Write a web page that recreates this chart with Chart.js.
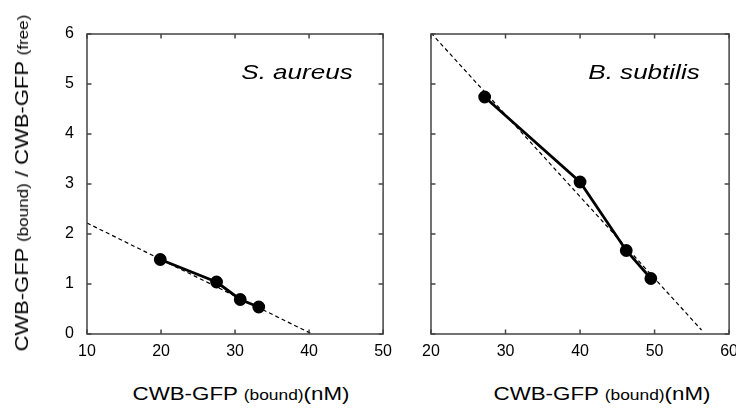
<!DOCTYPE html>
<html>
<head>
<meta charset="utf-8">
<script src="https://cdn.jsdelivr.net/npm/chart.js@4"></script>
<style>
  html, body { margin: 0; padding: 0; background: #fff; }
  body { width: 736px; height: 410px; position: relative; overflow: hidden;
         font-family: "Liberation Sans", Arial, sans-serif; color: #000; }
  .panel { position: absolute; top: 0; height: 380px; }
  .lbl { position: absolute; white-space: nowrap; line-height: 1; }
  .lbl small { font-size: 14px; }
  .ytitle { font-size: 18px; left: 21.5px; top: 183px;
            transform: translate(-50%, -50%) rotate(-90deg) scaleX(1.22); }
  .xtitle { font-size: 18px; top: 393.5px;
            transform: translate(-50%, -50%) scaleX(1.24); }
  .species { font-size: 21px; font-style: italic; top: 71px;
             transform: translate(-50%, -50%) scaleX(1.24); }
</style>
</head>
<body>
<div class="panel" id="leftBox" style="left:0; width:400px;"><canvas id="leftChart"></canvas></div>
<div class="panel" id="rightBox" style="left:400px; width:346px;"><canvas id="rightChart"></canvas></div>

<div class="lbl ytitle">CWB-GFP <small>(bound)</small> / CWB-GFP <small>(free)</small></div>
<div class="lbl xtitle" style="left:241px;">CWB-GFP <small>(bound)</small>(nM)</div>
<div class="lbl xtitle" style="left:602px;">CWB-GFP <small>(bound)</small>(nM)</div>
<div class="lbl species" style="left:297px;">S. aureus</div>
<div class="lbl species" style="left:644px;">B. subtilis</div>

<script>
// S. aureus
const saX = [19.9, 27.5, 30.7, 33.2];
const saY = [1.49, 1.04, 0.69, 0.54];
const saFitX = [10, 40.4];
const saFitY = [2.22, 0];

// B. subtilis
const bsX = [27.2, 40.0, 46.2, 49.5];
const bsY = [4.74, 3.04, 1.67, 1.11];
const bsFitX = [20, 56.3];
const bsFitY = [6.02, 0.08];

const leftXTicks = [10, 20, 30, 40, 50];
const rightXTicks = [20, 30, 40, 50, 60];
const yTicks = [0, 1, 2, 3, 4, 5, 6];

function pts(xs, ys) {
  return xs.map((x, i) => ({ x: x, y: ys[i] }));
}

// marco y marcas hacia dentro en los cuatro lados
const framePlugin = {
  id: 'frame',
  afterDatasetsDraw(chart) {
    const c = chart.ctx;
    const a = chart.chartArea;
    const xs = chart.scales.x, ys = chart.scales.y;
    const len = 4.5;
    c.save();
    c.strokeStyle = '#444';
    c.lineWidth = 1.5;
    c.beginPath();
    xs.ticks.forEach(t => {
      const p = xs.getPixelForValue(t.value);
      c.moveTo(p, a.bottom); c.lineTo(p, a.bottom - len);
      c.moveTo(p, a.top); c.lineTo(p, a.top + len);
    });
    ys.ticks.forEach(t => {
      const p = ys.getPixelForValue(t.value);
      c.moveTo(a.left, p); c.lineTo(a.left + len, p);
      c.moveTo(a.right, p); c.lineTo(a.right - len, p);
    });
    c.stroke();
    c.strokeRect(a.left, a.top, a.right - a.left, a.bottom - a.top);
    c.restore();
  }
};

function makePanel(canvasId, xTicks, dataX, dataY, fitX, fitY, yLabels, yWidth, padRight) {
  return new Chart(document.getElementById(canvasId), {
    type: 'scatter',
    data: {
      datasets: [
        {
          data: pts(fitX, fitY),
          showLine: true,
          borderColor: '#000',
          borderWidth: 1.2,
          borderDash: [4, 3],
          pointRadius: 0
        },
        {
          data: pts(dataX, dataY),
          showLine: true,
          borderColor: '#000',
          backgroundColor: '#000',
          borderWidth: 2.8,
          pointRadius: 5,
          pointHoverRadius: 5
        }
      ]
    },
    options: {
      responsive: true,
      maintainAspectRatio: false,
      animation: false,
      layout: { padding: { top: 34, right: padRight, left: 0, bottom: 0 }, autoPadding: false },
      plugins: { legend: { display: false }, tooltip: { enabled: false } },
      scales: {
        x: {
          type: 'linear',
          min: xTicks[0],
          max: xTicks[xTicks.length - 1],
          afterBuildTicks: s => { s.ticks = xTicks.map(v => ({ value: v })); },
          afterFit: s => { s.height = 46; },
          grid: { display: false, drawTicks: false },
          border: { display: false },
          ticks: { color: '#000', padding: 8, maxRotation: 0, font: { family: 'Liberation Sans', size: 16 } }
        },
        y: {
          type: 'linear',
          min: yTicks[0],
          max: yTicks[yTicks.length - 1],
          afterBuildTicks: s => { s.ticks = yTicks.map(v => ({ value: v })); },
          afterFit: s => { s.width = yWidth; },
          grid: { display: false, drawTicks: false },
          border: { display: false },
          ticks: { display: yLabels, color: '#000', padding: 13, font: { family: 'Liberation Sans', size: 16 } }
        }
      }
    },
    plugins: [framePlugin]
  });
}

makePanel('leftChart', leftXTicks, saX, saY, saFitX, saFitY, true, 87, 13);
makePanel('rightChart', rightXTicks, bsX, bsY, bsFitX, bsFitY, false, 31, 16);
</script>
</body>
</html>
